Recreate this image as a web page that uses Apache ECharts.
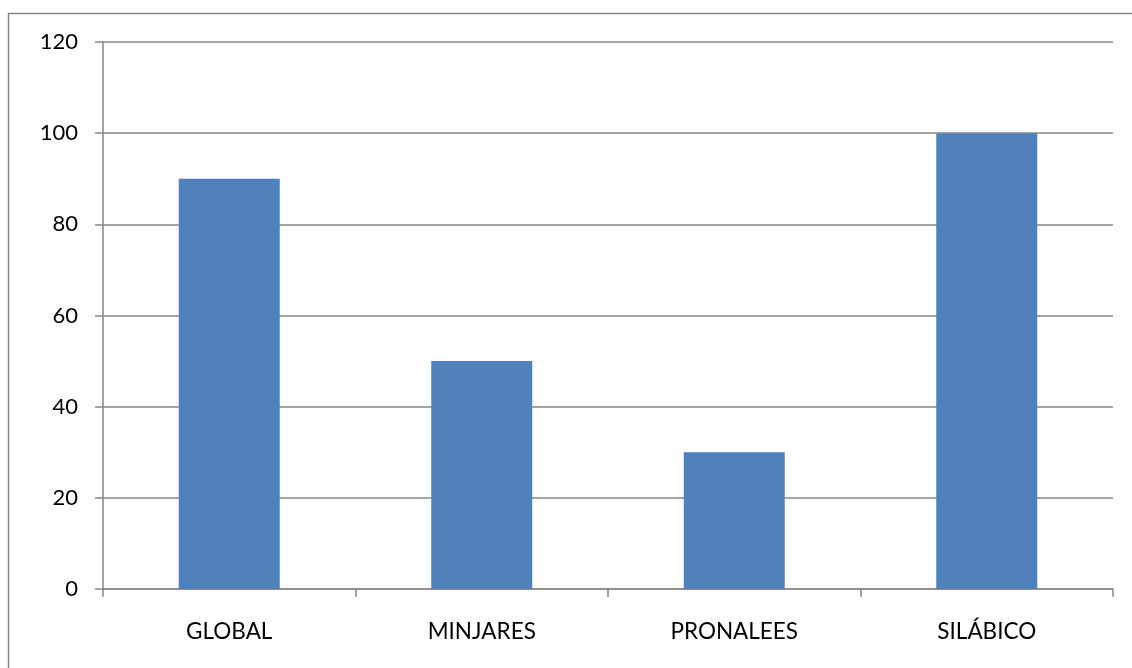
<!DOCTYPE html>
<html>
<head>
<meta charset="utf-8">
<script src="https://cdn.jsdelivr.net/npm/echarts@6/dist/echarts.min.js"></script>
<style>
html,body{margin:0;padding:0;background:#fff;}
#chart{width:1132px;height:668px;}
</style>
</head>
<body>
<div id="chart"></div>
<script>
const categories = ['GLOBAL', 'MINJARES', 'PRONALEES', 'SILÁBICO'];
const values = [90, 50, 30, 100];
const yTicks = [0, 20, 40, 60, 80, 100, 120];

const chart = echarts.init(document.getElementById('chart'));
const lineColor = '#868686';
const font = 'Lato, "Open Sans", sans-serif';
chart.setOption({
  animation: false,
  backgroundColor: '#ffffff',
  graphic: [{
    type: 'rect',
    shape: { x: 8.5, y: 13.5, width: 1140, height: 700 },
    style: { fill: 'none', stroke: lineColor, lineWidth: 1.5 },
    silent: true
  }],
  grid: { left: 103, right: 19, top: 42, bottom: 79, containLabel: false },
  xAxis: {
    type: 'category',
    data: categories,
    boundaryGap: true,
    axisLine: { show: true, lineStyle: { color: lineColor, width: 1.5 } },
    axisTick: { show: true, length: 8, alignWithLabel: false, lineStyle: { color: lineColor, width: 1.5 } },
    axisLabel: { color: '#000', fontSize: 22.5, fontFamily: font, margin: 31 }
  },
  yAxis: {
    type: 'value',
    min: yTicks[0],
    max: yTicks[yTicks.length - 1],
    interval: 20,
    axisLine: { show: true, lineStyle: { color: lineColor, width: 1.5 } },
    axisTick: { show: true, length: 8, lineStyle: { color: lineColor, width: 1.5 } },
    splitLine: { show: true, lineStyle: { color: lineColor, width: 1.5 } },
    axisLabel: { color: '#000', fontSize: 22, fontFamily: font, margin: 25 }
  },
  series: [{
    type: 'bar',
    data: values,
    barWidth: '40%',
    itemStyle: { color: '#4F81BD' }
  }]
});
</script>
</body>
</html>
